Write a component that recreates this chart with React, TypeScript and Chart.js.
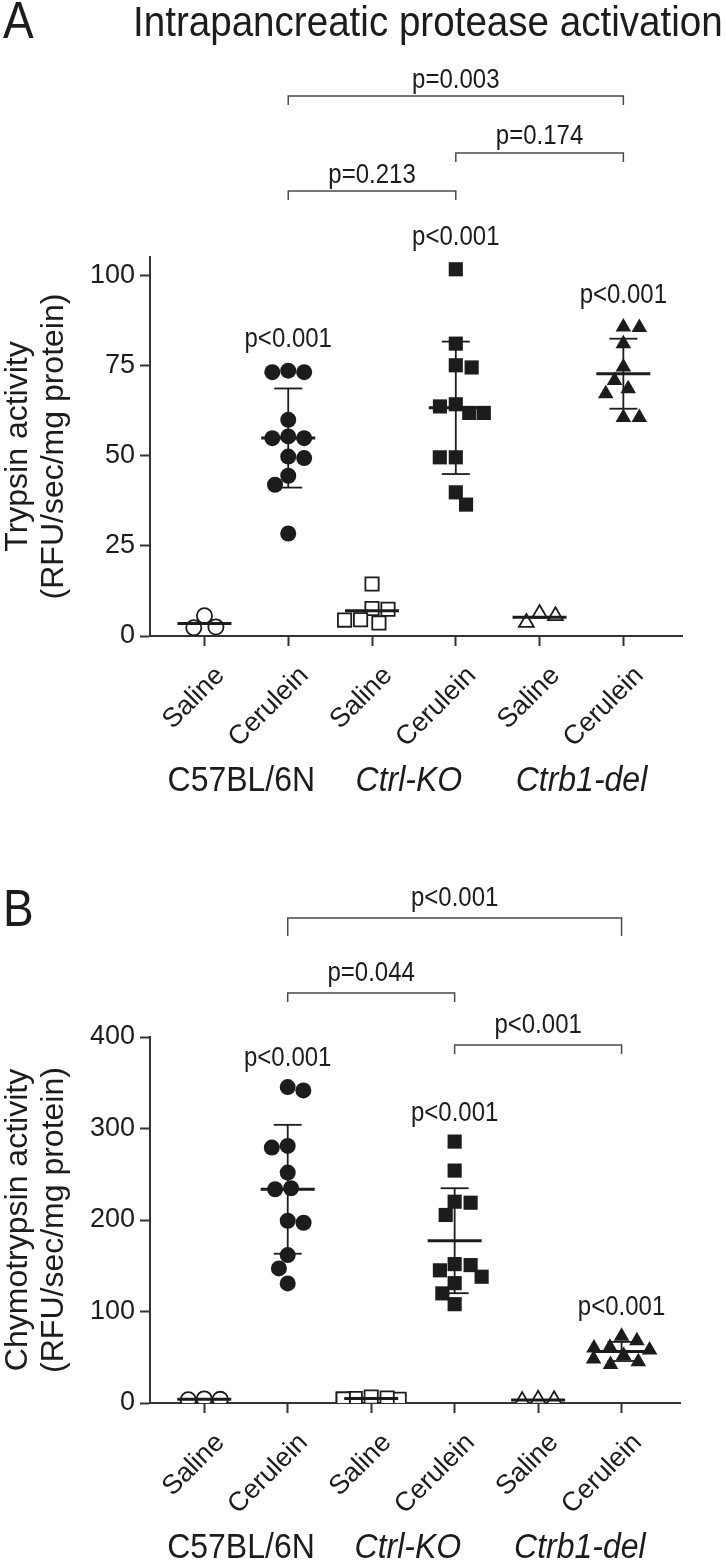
import React, { useEffect, useRef } from 'react';
import { Chart, registerables } from 'chart.js';

Chart.register(...registerables);

// ---------- data ----------
const categories = ['Saline', 'Cerulein', 'Saline', 'Cerulein', 'Saline', 'Cerulein'];
const strains = ['C57BL/6N', 'Ctrl-KO', 'Ctrb1-del'];
const strainItalic = [false, true, true];

// Panel A: trypsin activity (RFU/sec/mg protein)
const trypsinC57Saline = [5.6, 2.3, 2.5];
const trypsinC57Cerulein = [73.1, 73.5, 73.1, 59.9, 54.8, 54.8, 55.3, 49.3, 49.7, 44.4, 41.9, 28.4];
const trypsinKOSaline = [14.4, 7.4, 4.4, 3.6, 7.6, 4.5];
const trypsinKOCerulein = [101.6, 81.0, 75.0, 74.4, 63.6, 64.2, 61.8, 61.8, 49.5, 49.5, 39.8, 36.4];
const trypsinDelSaline = [6.2, 3.7, 5.6];
const trypsinDelCerulein = [85.5, 85.6, 81.0, 74.5, 68.5, 70.8, 67.1, 60.5, 60.5];
const trypsinTicks = [0, 25, 50, 75, 100];
const trypsinGroupP = ['', 'p<0.001', '', 'p<0.001', '', 'p<0.001'];
const trypsinBrackets: [number, number, string][] = [
  [1, 5, 'p=0.003'],
  [3, 5, 'p=0.174'],
  [1, 3, 'p=0.213'],
];

// Panel B: chymotrypsin activity (RFU/sec/mg protein)
const chymoC57Saline = [4.5, 3.5, 4.0];
const chymoC57Cerulein = [345.3, 341.6, 279.2, 281.0, 251.8, 234.7, 233.6, 197.0, 199.2, 161.7, 147.1, 130.7];
const chymoKOSaline = [6.5, 5.0, 4.0, 5.5, 3.5, 4.5];
const chymoKOCerulein = [285.7, 254.0, 220.0, 218.9, 205.5, 151.8, 150.7, 145.0, 138.0, 131.0, 119.8, 108.0];
const chymoDelSaline = [4.0, 2.5, 3.5];
const chymoDelCerulein = [73, 68, 61, 60, 58, 52, 48, 45, 42];
const chymoTicks = [0, 100, 200, 300, 400];
const chymoGroupP = ['', 'p<0.001', '', 'p<0.001', '', 'p<0.001'];
const chymoBrackets: [number, number, string][] = [
  [1, 5, 'p<0.001'],
  [1, 3, 'p=0.044'],
  [3, 5, 'p<0.001'],
];

// ---------- styling ----------
const FONT = '"Liberation Sans", Arial, Helvetica, sans-serif';
const INK = '#1c1c1c';
const AXIS = '#333333';
const BRACKET = '#4a4a4a';
const PAGE_W = 726;
const PLOT_LEFT = 150;
const X_MIN = -0.65;
const X_MAX = 5.7;
const V_STRETCH = 1.12;

const markerStyles = [
  { shape: 'circle', radius: 7.6, filled: false },
  { shape: 'circle', radius: 8, filled: true },
  { shape: 'rect', radius: 9.4, filled: false },
  { shape: 'rect', radius: 10, filled: true },
  { shape: 'triangle', radius: 8.6, filled: false },
  { shape: 'triangle', radius: 9, filled: true },
];
const errorBarGroups = [false, true, false, true, false, true];

type PanelSpec = {
  letter: string;
  title?: string;
  top: number;
  height: number;
  plotTop: number;
  plotBottom: number;
  plotRight: number;
  yMax: number;
  ticks: number[];
  yTitle: string[];
  groups: number[][];
  groupP: string[];
  brackets: [number, number, string][];
  bracketY: [number, number, number][];
  strainY: number;
  letterY: number;
  pGap: number;
};

const panels: PanelSpec[] = [
  {
    letter: 'A',
    title: 'Intrapancreatic protease activation',
    top: 0,
    height: 800,
    plotTop: 257,
    plotBottom: 636,
    plotRight: 682,
    yMax: 105,
    ticks: trypsinTicks,
    yTitle: ['Trypsin activity', '(RFU/sec/mg protein)'],
    groups: [trypsinC57Saline, trypsinC57Cerulein, trypsinKOSaline, trypsinKOCerulein, trypsinDelSaline, trypsinDelCerulein],
    groupP: trypsinGroupP,
    brackets: trypsinBrackets,
    bracketY: [[88, 96, 105], [144, 153, 162], [183, 191, 200]],
    strainY: 791,
    letterY: 38,
    pGap: 24,
  },
  {
    letter: 'B',
    top: 800,
    height: 764,
    plotTop: 237,
    plotBottom: 603,
    plotRight: 680,
    yMax: 400,
    ticks: chymoTicks,
    yTitle: ['Chymotrypsin activity', '(RFU/sec/mg protein)'],
    groups: [chymoC57Saline, chymoC57Cerulein, chymoKOSaline, chymoKOCerulein, chymoDelSaline, chymoDelCerulein],
    groupP: chymoGroupP,
    brackets: chymoBrackets,
    bracketY: [[106, 118, 136], [181, 193, 202], [233, 245, 254]],
    strainY: 758,
    letterY: 126,
    pGap: 21,
  },
];

// ---------- helpers ----------
const mean = (a: number[]) => a.reduce((s, v) => s + v, 0) / a.length;
const stdev = (a: number[]) => {
  const m = mean(a);
  return Math.sqrt(a.reduce((s, v) => s + (v - m) * (v - m), 0) / (a.length - 1));
};

// deterministic beeswarm: returns horizontal offsets (in x-axis units)
function swarm(values: number[], pxY: number, pxX: number): number[] {
  const D = 16;
  const MAX = 28;
  const order = values.map((_, i) => i).sort((a, b) => values[b] - values[a]);
  const placed: { x: number; y: number }[] = [];
  const off = new Array(values.length).fill(0);
  let flip = 1;
  for (const i of order) {
    const y = values[i] * pxY;
    const cands = [0];
    for (const p of placed) {
      const dy = Math.abs(p.y - y);
      if (dy < D) {
        const dx = Math.sqrt(D * D - dy * dy);
        cands.push(p.x + dx, p.x - dx);
      }
    }
    const ok = (x: number) =>
      placed.every((p) => {
        const dy = p.y - y;
        const dx = p.x - x;
        return dx * dx + dy * dy >= D * D - 0.05;
      });
    let best: number | null = null;
    for (const c of cands) {
      if (!ok(c)) continue;
      if (
        best === null ||
        Math.abs(c) < Math.abs(best) - 0.01 ||
        (Math.abs(Math.abs(c) - Math.abs(best)) <= 0.01 && c * flip > 0)
      ) {
        best = c;
      }
    }
    if (best === null) best = 0;
    if (Math.abs(best) > 0.01) flip = -Math.sign(best);
    best = Math.max(-MAX, Math.min(MAX, best));
    placed.push({ x: best, y });
    off[i] = best / pxX;
  }
  return off;
}

function drawText(
  ctx: CanvasRenderingContext2D,
  s: string,
  x: number,
  y: number,
  size: number,
  align: CanvasTextAlign,
  italic = false
) {
  ctx.save();
  ctx.font = `${italic ? 'italic ' : ''}${size}px ${FONT}`;
  ctx.fillStyle = INK;
  ctx.textAlign = align;
  ctx.textBaseline = 'alphabetic';
  ctx.translate(x, y);
  ctx.scale(1, V_STRETCH);
  ctx.fillText(s, 0, 0);
  ctx.restore();
}

function seg(ctx: CanvasRenderingContext2D, x1: number, y1: number, x2: number, y2: number) {
  ctx.beginPath();
  ctx.moveTo(x1, y1);
  ctx.lineTo(x2, y2);
  ctx.stroke();
}

function PanelChart({ p }: { p: PanelSpec }) {
  const ref = useRef<HTMLCanvasElement>(null);

  useEffect(() => {
    const canvas = ref.current;
    if (!canvas) return;
    const pxX = (p.plotRight - PLOT_LEFT) / (X_MAX - X_MIN);
    const pxY = (p.plotBottom - p.plotTop) / p.yMax;

    const datasets = p.groups.map((vals, g) => {
      const off = swarm(vals, pxY, pxX);
      const st = markerStyles[g];
      return {
        type: 'scatter' as const,
        data: vals.map((v, k) => ({ x: g + off[k], y: v })),
        pointStyle: st.shape,
        pointRadius: st.radius,
        pointHoverRadius: st.radius,
        backgroundColor: st.filled ? INK : '#ffffff',
        borderColor: INK,
        borderWidth: st.filled ? 0 : 1.8,
      };
    });

    const annot = {
      id: 'annot',
      afterDatasetsDraw(chart: any) {
        const ctx = chart.ctx as CanvasRenderingContext2D;
        const xs = chart.scales.x;
        const ys = chart.scales.y;
        ctx.save();
        ctx.strokeStyle = INK;
        ctx.lineCap = 'butt';
        p.groups.forEach((vals, g) => {
          const m = mean(vals);
          const cx = xs.getPixelForValue(g);
          const my = ys.getPixelForValue(m);
          if (errorBarGroups[g]) {
            const sd = stdev(vals);
            const t = ys.getPixelForValue(m + sd);
            const b = ys.getPixelForValue(m - sd);
            ctx.lineWidth = 1.8;
            seg(ctx, cx, t, cx, b);
            seg(ctx, cx - 14, t, cx + 14, t);
            seg(ctx, cx - 14, b, cx + 14, b);
          }
          ctx.lineWidth = 3;
          seg(ctx, cx - 27, my, cx + 27, my);
        });
        ctx.restore();
      },
      afterDraw(chart: any) {
        const ctx = chart.ctx as CanvasRenderingContext2D;
        const xs = chart.scales.x;
        const ys = chart.scales.y;
        // panel letter and title
        drawText(ctx, p.letter, 3, p.letterY, 46, 'left');
        if (p.title) drawText(ctx, p.title, 133, 36, 38.6, 'left');
        // significance labels above groups
        p.groups.forEach((vals, g) => {
          if (!p.groupP[g]) return;
          const top = ys.getPixelForValue(Math.max(...vals));
          drawText(ctx, p.groupP[g], xs.getPixelForValue(g), top - p.pGap, 24, 'center');
        });
        // brackets
        ctx.save();
        ctx.strokeStyle = BRACKET;
        ctx.lineWidth = 1.5;
        p.brackets.forEach(([g1, g2, label], i) => {
          const [ty, ly, dy] = p.bracketY[i];
          const x1 = xs.getPixelForValue(g1);
          const x2 = xs.getPixelForValue(g2);
          ctx.beginPath();
          ctx.moveTo(x1, dy);
          ctx.lineTo(x1, ly);
          ctx.lineTo(x2, ly);
          ctx.lineTo(x2, dy);
          ctx.stroke();
          drawText(ctx, label, (x1 + x2) / 2, ty, 24, 'center');
        });
        ctx.restore();
        // strain labels
        strains.forEach((s, i) => {
          const cx = (xs.getPixelForValue(2 * i) + xs.getPixelForValue(2 * i + 1)) / 2;
          drawText(ctx, s, cx - (i < 2 ? 5 : 0), p.strainY, 32, 'center', strainItalic[i]);
        });
      },
    };

    const chart = new Chart(canvas, {
      type: 'scatter',
      data: { datasets: datasets as any },
      options: {
        responsive: false,
        animation: false,
        events: [],
        layout: { padding: { top: p.plotTop, right: PAGE_W - p.plotRight, left: 0, bottom: 0 } },
        plugins: {
          legend: { display: false },
          tooltip: { enabled: false },
          title: { display: false },
        },
        scales: {
          x: {
            type: 'linear',
            position: 'bottom',
            min: X_MIN,
            max: X_MAX,
            afterBuildTicks: (s: any) => {
              s.ticks = categories.map((_, i) => ({ value: i }));
            },
            afterFit: (s: any) => {
              s.height = p.height - p.plotBottom;
            },
            ticks: {
              autoSkip: false,
              minRotation: 45,
              maxRotation: 45,
              color: INK,
              font: { family: FONT, size: 27 },
              padding: 14,
              labelOffset: 16,
              callback: (_v: any, i: number) => categories[i],
            },
            grid: { drawOnChartArea: false, drawTicks: true, tickLength: 10, tickWidth: 2, tickColor: AXIS },
            border: { display: true, color: AXIS, width: 2 },
          },
          y: {
            type: 'linear',
            min: 0,
            max: p.yMax,
            afterBuildTicks: (s: any) => {
              s.ticks = p.ticks.map((v) => ({ value: v }));
            },
            afterFit: (s: any) => {
              s.width = PLOT_LEFT;
            },
            ticks: {
              color: INK,
              font: { family: FONT, size: 27 },
              padding: 5,
              callback: (v: any) => String(v),
            },
            grid: { drawOnChartArea: false, drawTicks: true, tickLength: 10, tickWidth: 2, tickColor: AXIS },
            border: { display: true, color: AXIS, width: 2 },
            title: {
              display: true,
              text: p.yTitle,
              color: INK,
              font: { family: FONT, size: 32, lineHeight: 36 / 32 },
              padding: 0,
            },
          },
        },
      } as any,
      plugins: [annot],
    });

    return () => chart.destroy();
  }, [p]);

  return (
    <div style={{ position: 'absolute', left: 0, top: p.top, width: PAGE_W, height: p.height }}>
      <canvas ref={ref} width={PAGE_W} height={p.height} style={{ display: 'block' }} />
    </div>
  );
}

export default function App() {
  return (
    <div style={{ position: 'absolute', left: 0, top: 0, width: PAGE_W, height: 1564, background: '#ffffff' }}>
      {panels.map((p) => (
        <PanelChart key={p.letter} p={p} />
      ))}
    </div>
  );
}
